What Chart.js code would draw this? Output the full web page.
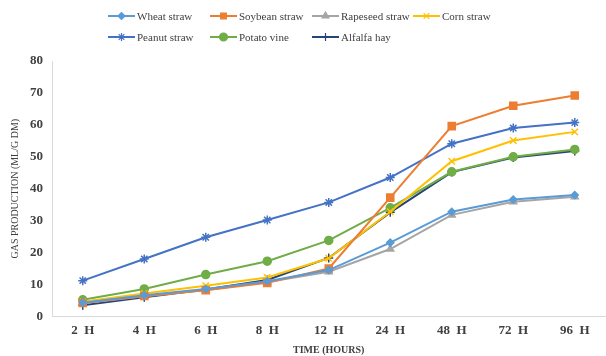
<!DOCTYPE html>
<html>
<head>
<meta charset="utf-8">
<script src="https://cdn.jsdelivr.net/npm/chart.js"></script>
<style>
	html, body { margin: 0; padding: 0; background: #fff; overflow: hidden; }
	.chart-wrap { width: 612px; height: 356px; }
</style>
</head>
<body>
<div class="chart-wrap"><canvas id="gasChart" width="612" height="356"></canvas></div>
<script>
"use strict";

const timeLabels = ['2  H', '4  H', '6  H', '8  H', '12  H', '24  H', '48  H', '72  H', '96  H'];

const wheatStraw = [4.3, 6.6, 8.6, 11.0, 14.5, 23.1, 32.8, 36.6, 38.0];
const soybeanStraw = [4.2, 6.4, 8.2, 10.5, 15.0, 37.2, 59.6, 66.0, 69.2];
const rapeseedStraw = [4.1, 6.3, 8.3, 10.8, 14.0, 21.1, 31.8, 35.9, 37.5];
const cornStraw = [4.6, 7.2, 9.6, 12.2, 18.2, 32.8, 48.6, 55.1, 57.8];
const peanutStraw = [11.2, 18.0, 24.8, 30.2, 35.7, 43.5, 54.1, 59.0, 60.7];
const potatoVine = [5.2, 8.6, 13.1, 17.3, 23.8, 34.0, 45.3, 50.0, 52.3];
const alfalfaHay = [3.5, 6.0, 8.4, 11.4, 18.3, 32.6, 45.2, 49.8, 51.8];

const yTicks = [0, 10, 20, 30, 40, 50, 60, 70, 80];

const serif = "'Liberation Serif', 'Times New Roman', serif";

function eventHandler() {

	let series = [
		{ label: 'Wheat straw', data: wheatStraw, color: '#5B9BD5', style: 'rectRot', r: 3.5 },
		{ label: 'Soybean straw', data: soybeanStraw, color: '#ED7D31', style: 'rect', r: 5 },
		{ label: 'Rapeseed straw', data: rapeseedStraw, color: '#A5A5A5', style: 'triangle', r: 4 },
		{ label: 'Corn straw', data: cornStraw, color: '#FFC000', style: 'crossRot', r: 4.5 },
		{ label: 'Peanut straw', data: peanutStraw, color: '#4472C4', style: 'star', r: 4.5 },
		{ label: 'Potato vine', data: potatoVine, color: '#70AD47', style: 'circle', r: 4 },
		{ label: 'Alfalfa hay', data: alfalfaHay, color: '#264478', style: 'cross', r: 4.5 },
	];

	// legend in a 4-column grid like the original
	const legendGrid = {
		id: 'legendGrid',
		afterDraw(chart) {
			const ctx = chart.ctx;
			const cols = [108, 210, 312, 413];
			const rows = [16, 37];
			ctx.save();
			chart.data.datasets.forEach((ds, i) => {
				let x = cols[i % 4];
				let y = rows[Math.floor(i / 4)];
				ctx.strokeStyle = ds.borderColor;
				ctx.lineWidth = 2;
				ctx.beginPath();
				ctx.moveTo(x, y);
				ctx.lineTo(x + 27, y);
				ctx.stroke();
				ctx.fillStyle = ds.borderColor;
				ctx.lineWidth = 1.2;
				Chart.helpers.drawPoint(ctx, {
					pointStyle: ds.pointStyle,
					radius: Math.min(ds.pointRadius, 4),
					rotation: 0,
					borderWidth: 1.2
				}, x + 13.5, y);
				ctx.fillStyle = '#404040';
				ctx.font = '11px ' + serif;
				ctx.textBaseline = 'middle';
				ctx.textAlign = 'left';
				ctx.fillText(ds.label, x + 29, y + 1);
			});
			ctx.restore();
		}
	};

	new Chart(document.getElementById('gasChart'), {
		type: 'line',
		data: {
			labels: timeLabels,
			datasets: series.map((s) => ({
				label: s.label,
				data: s.data,
				borderColor: s.color,
				backgroundColor: s.color,
				pointBackgroundColor: s.color,
				pointBorderColor: s.color,
				pointStyle: s.style,
				pointRadius: s.r,
				pointBorderWidth: 1.5,
				borderWidth: 2,
				tension: 0,
				fill: false,
			}))
		},
		options: {
			responsive: false,
			animation: false,
			layout: {
				padding: { top: 61, right: 0, left: 9, bottom: 0 }
			},
			plugins: {
				legend: { display: false },
				tooltip: { enabled: false },
			},
			scales: {
				x: {
					offset: true,
					grid: { display: false, drawTicks: false },
					border: { color: '#d9d9d9', width: 1 },
					ticks: {
						color: '#404040',
						padding: 6,
						maxRotation: 0,
						font: { family: serif, size: 13, weight: 'bold' }
					},
					title: {
						display: true,
						text: 'TIME (HOURS)',
						color: '#404040',
						padding: { top: 0, bottom: 0 },
						font: { family: serif, size: 10, weight: 'bold' }
					}
				},
				y: {
					min: 0,
					max: 80,
					afterBuildTicks(axis) {
						axis.ticks = yTicks.map((v) => ({ value: v }));
					},
					grid: { display: false, drawTicks: false },
					border: { color: '#d9d9d9', width: 1 },
					ticks: {
						color: '#404040',
						padding: 9,
						font: { family: serif, size: 13, weight: 'bold' }
					},
					title: {
						display: true,
						text: 'GAS PRODUCTION (ML/G DM)',
						color: '#404040',
						padding: { top: 0, bottom: 0 },
						font: { family: serif, size: 10 }
					}
				}
			}
		},
		plugins: [legendGrid]
	});
}

if (document.readyState !== 'loading') {
	eventHandler();
} else {
	document.addEventListener('DOMContentLoaded', eventHandler);
}
</script>
</body>
</html>
